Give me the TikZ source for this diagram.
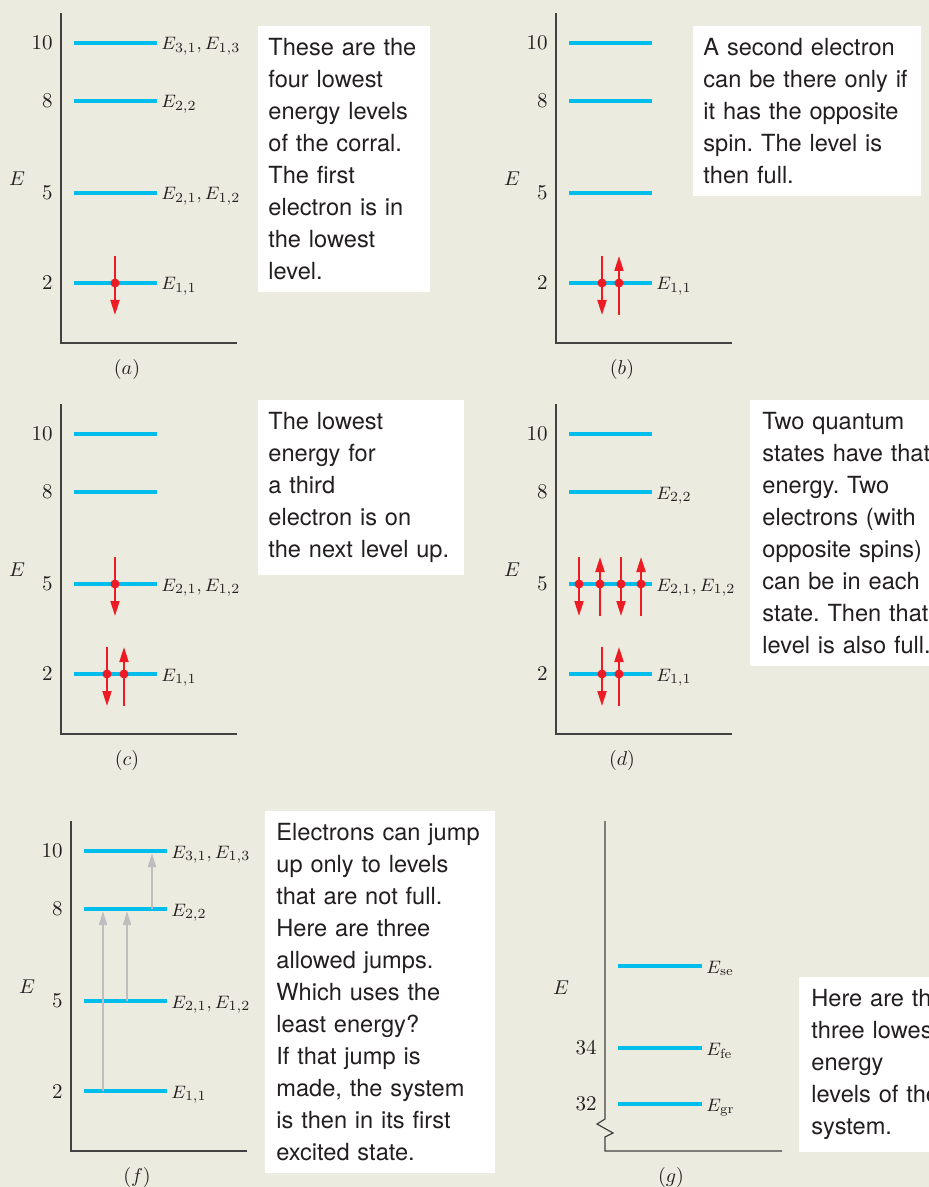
\documentclass[tikz,border=0pt]{standalone}
\usepackage{fontspec}
\newfontfamily\notefont{TeX Gyre Heros}
\usepackage{tikz}
\usetikzlibrary{arrows.meta}
\frenchspacing

\definecolor{bgpaper}{RGB}{236,235,224}
\definecolor{levelcyan}{RGB}{0,190,235}
\definecolor{spinred}{RGB}{237,28,36}
\definecolor{jumpgrey}{RGB}{190,190,192}
\definecolor{inkdark}{RGB}{35,31,32}

% axis, the four levels and their values of one panel
\newcommand{\levelframe}[2]{%
  \draw[axisln] (61,13) -- (61,343) -- (237,343);
  \foreach \yy/\vv in {43/10,101/8,193/5,283/2}{
    \draw[lvl] (74,\yy) -- (157,\yy);
    \node[tick] (#1t\vv) at (53,\yy) {\vv};
  }
  \node[axlbl] (#1E) at (17,179) {$E$};
  \node[panelcap] (#1cap) at (127,369) {$(#2)$};
}
\newcommand{\spindn}[2]{\draw[spin] (#1,#2) ++(0,-27) -- ++(0,59); \fill[spinred] (#1,#2) circle[radius=2.25pt];}
\newcommand{\spinup}[2]{\draw[spin] (#1,#2) ++(0,32) -- ++(0,-59); \fill[spinred] (#1,#2) circle[radius=2.25pt];}

\begin{document}
\begin{tikzpicture}[
    x=0.5pt, y=-0.5pt,
    lvl/.style={levelcyan, line width=2pt},
    axisln/.style={inkdark!85, line width=0.6pt},
    tick/.style={anchor=east, inner sep=0pt, text=inkdark, font=\fontsize{10.5}{12}\selectfont},
    lbl/.style={anchor=base west, inner sep=0pt, text=inkdark, font=\fontsize{9.5}{12}\selectfont},
    axlbl/.style={inner sep=0pt, text=inkdark, font=\fontsize{10}{12}\selectfont},
    panelcap/.style={inner sep=0pt, text=inkdark, font=\fontsize{10}{12}\selectfont},
    note/.style={fill=white, anchor=north west, align=left, inner xsep=5pt, inner ysep=6pt,
                 text=inkdark, font=\notefont\fontsize{11.8}{16}\selectfont},
    spin/.style={spinred, line width=1pt, -{Triangle[length=7.5pt,width=4.5pt]}},
    jump/.style={jumpgrey, line width=1pt, -{Triangle[length=7pt,width=4pt]}, shorten >=1pt}
]
\useasboundingbox (0,0) rectangle (929,1187);
\clip (0,0) rectangle (929,1187);
\fill[bgpaper] (0,0) rectangle (929,1187);

% (a)
\begin{scope}
\levelframe{a}{a}
\node[lbl] (aL10) at (161,50)  {$E_{3,1}, E_{1,3}$};
\node[lbl] (aL8)  at (161,108) {$E_{2,2}$};
\node[lbl] (aL5)  at (161,200) {$E_{2,1}, E_{1,2}$};
\node[lbl] (aL2)  at (161,290) {$E_{1,1}$};
\spindn{115}{283}
\end{scope}

% (b)
\begin{scope}[shift={(495,0)}]
\levelframe{b}{b}
\node[lbl] (bL2) at (161,290) {$E_{1,1}$};
\spindn{107}{283} \spinup{124}{283}
\end{scope}

% (c)
\begin{scope}[shift={(0,391)}]
\levelframe{c}{c}
\node[lbl] (cL5) at (161,200) {$E_{2,1}, E_{1,2}$};
\node[lbl] (cL2) at (161,290) {$E_{1,1}$};
\spindn{115}{193}
\spindn{107}{283} \spinup{124}{283}
\end{scope}

% (d)
\begin{scope}[shift={(495,391)}]
\levelframe{d}{d}
\node[lbl] (dL8) at (161,108) {$E_{2,2}$};
\node[lbl] (dL5) at (161,200) {$E_{2,1}, E_{1,2}$};
\node[lbl] (dL2) at (161,290) {$E_{1,1}$};
\spindn{84}{193} \spinup{105}{193} \spindn{126}{193} \spinup{146}{193}
\spindn{107}{283} \spinup{124}{283}
\end{scope}

% (f)
\begin{scope}[shift={(10,808)}]
\levelframe{f}{f}
\node[lbl] (fL10) at (161,50)  {$E_{3,1}, E_{1,3}$};
\node[lbl] (fL8)  at (161,108) {$E_{2,2}$};
\node[lbl] (fL5)  at (161,200) {$E_{2,1}, E_{1,2}$};
\node[lbl] (fL2)  at (161,290) {$E_{1,1}$};
\coordinate (fj1) at (93,283);  \coordinate (fj1e) at (93,101);
\coordinate (fj2) at (117,193); \coordinate (fj2e) at (117,101);
\coordinate (fj3) at (142,101); \coordinate (fj3e) at (142,43);
\draw[jump] (fj1) -- (fj1e);
\draw[jump] (fj2) -- (fj2e);
\draw[jump] (fj3) -- (fj3e);
\end{scope}

% (g)
\begin{scope}[shift={(544,808)}]
\draw[axisln] (61,13) -- (61,311) -- (53,316) -- (69,325) -- (61,329) -- (61,343) -- (238,343);
\draw[lvl] (74,158) -- (158,158);
\draw[lvl] (74,240) -- (158,240);
\draw[lvl] (74,296) -- (158,296);
\node[tick] (gt34) at (53,240) {34};
\node[tick] (gt32) at (53,296) {32};
\node[axlbl] (gE) at (17,180) {$E$};
\node[lbl] (gLse) at (162,165) {$E_{\mathrm{se}}$};
\node[lbl] (gLfe) at (162,247) {$E_{\mathrm{fe}}$};
\node[lbl] (gLgr) at (162,303) {$E_{\mathrm{gr}}$};
\node[panelcap] (gcap) at (127,369) {$(g)$};
\end{scope}

% notes
\node[note, text width=76pt] (notea) at (258,26)
  {These are the\\four lowest\\energy levels\\of the corral.\\The first\\electron is in\\the lowest\\level.};
\node[note, text width=104pt] (noteb) at (693,26)
  {A second electron\\can be there only if\\it has the opposite\\spin. The level is\\then full.};
\node[note, text width=93pt] (notec) at (258,400)
  {The lowest\\energy for\\a third\\electron is on\\the next level up.};
\node[note, text width=100pt, inner xsep=6pt] (noted) at (750,400)
  {Two quantum\\states have that\\energy. Two\\electrons (with\\opposite spins)\\can be in each\\state. Then that\\level is also full.};
\node[note, text width=104pt, inner xsep=5.5pt] (notef) at (265,811)
  {Electrons can jump\\up only to levels\\that are not full.\\Here are three\\allowed jumps.\\Which uses the\\least energy?\\If that jump is\\made, the system\\is then in its first\\excited state.};
\node[note, text width=80pt, inner xsep=6pt] (noteg) at (799,977)
  {Here are the\\three lowest\\energy\\levels of the\\system.};
\end{tikzpicture}
\end{document}
